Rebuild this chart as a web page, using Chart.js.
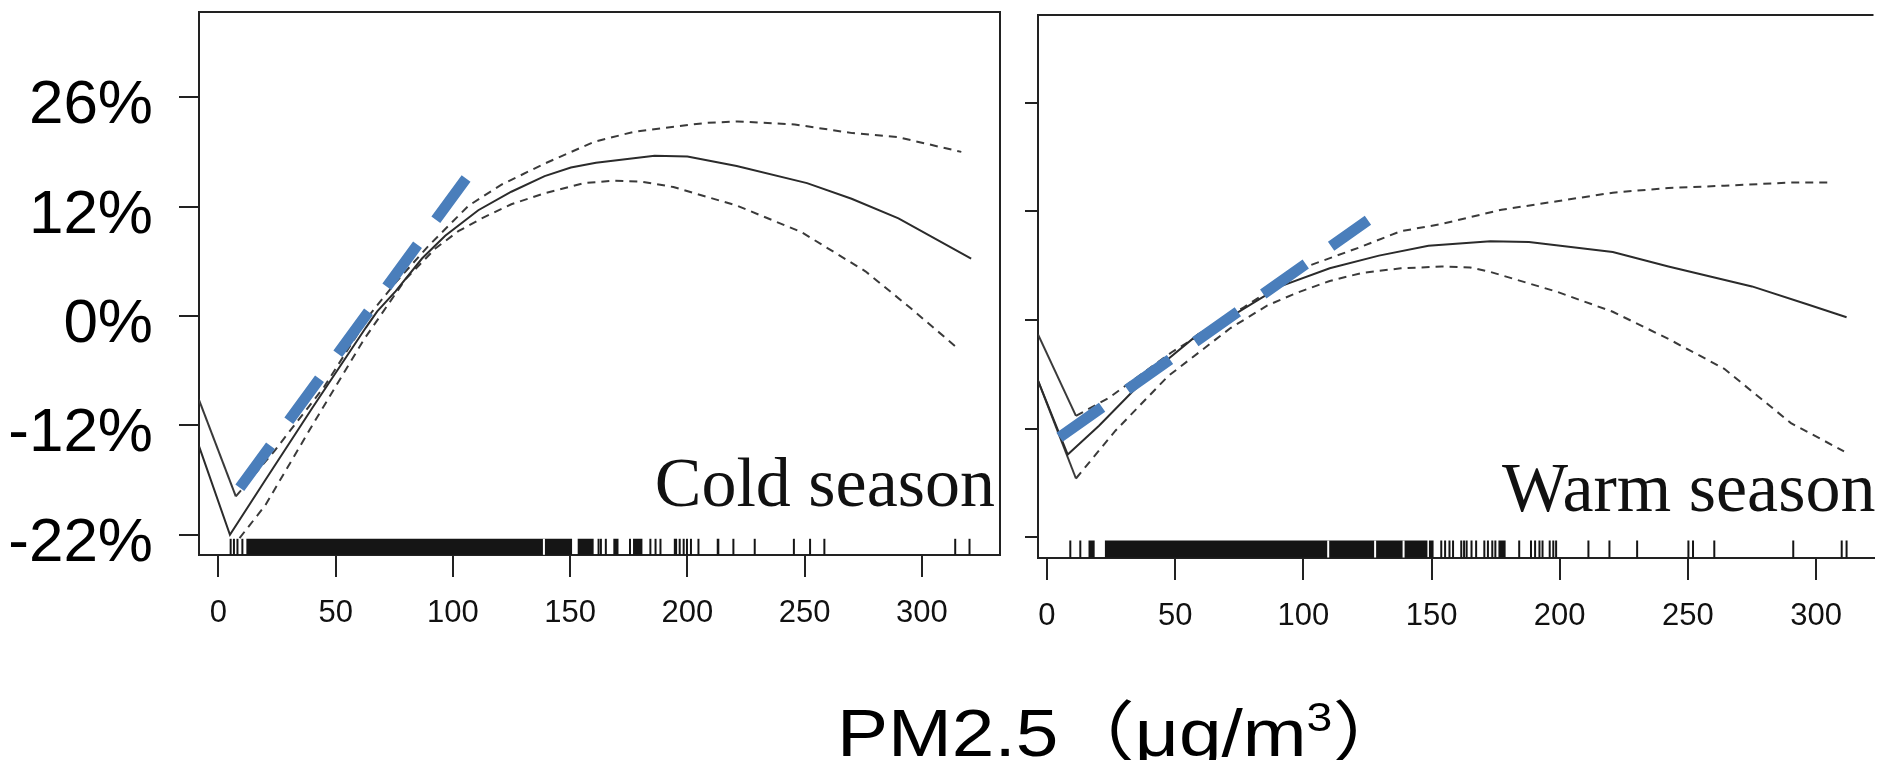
<!DOCTYPE html>
<html>
<head>
<meta charset="utf-8">
<script src="https://cdn.jsdelivr.net/npm/chart.js@4.4.1/dist/chart.umd.min.js"></script>
<style>
    body { margin: 0; width: 1884px; height: 760px; overflow: hidden; background: #fff; position: relative; }
    canvas { position: absolute; top: 0; }
    .season { position: absolute; font-family: 'Liberation Serif', 'Times New Roman', serif; font-size: 70px; line-height: 70px; color: #111; white-space: nowrap; }
    .xtitle { position: absolute; left: 837px; top: 694px; font-family: 'Liberation Sans', Arial, sans-serif; font-size: 66px; line-height: 66px; color: #000; white-space: nowrap; transform: scaleX(1.16); transform-origin: left top; }
    .cjk { font-family: 'Noto Sans CJK SC', sans-serif; }
    .sup { font-size: 40px; position: relative; top: -25px; }
</style>
</head>
<body>
<canvas id="coldChart" width="1010" height="690" style="left:0;width:1010px;height:690px"></canvas>
<canvas id="warmChart" width="884" height="690" style="left:1000px;width:884px;height:690px"></canvas>
<div class="season" style="right:889px;top:448px">Cold season</div>
<div class="season" style="left:1502px;top:453px">Warm season</div>
<div class="xtitle">PM2.5<span class="cjk">（</span>μg/m<span class="sup">3</span><span class="cjk">）</span></div>
<script>
// axis ticks
const xTicks = [0, 50, 100, 150, 200, 250, 300];
const yTickValues = [-22, -12, 0, 12, 26];
const yTickLabels = ['-22%', '-12%', '0%', '12%', '26%'];

// Cold season: fit and confidence band (PM2.5, % change)
const coldFitX = [-8.3, 4.9, 20, 40, 62.8, 67.7, 75.5, 86.8, 96.7, 110.8, 124.9, 139.1, 150.3, 161, 186, 200, 221, 251, 270, 290, 321];
const coldFitY = [-13.9, -22.0, -17.0, -10.1, -1.3, 0.5, 2.7, 6.3, 8.8, 11.6, 13.9, 15.9, 17.0, 17.6, 18.5, 18.4, 17.2, 15.0, 13.0, 10.7, 6.3];
const coldUpperX = [-8.3, 7.4, 24, 45, 65, 75, 89.6, 106.6, 120.7, 139.1, 160.3, 177.6, 207.6, 221.3, 245.8, 270.4, 289.5, 316.8];
const coldUpperY = [-9.2, -18.5, -14.3, -7.8, 0.3, 3.5, 7.7, 12.1, 14.8, 17.5, 20.3, 21.6, 22.7, 22.9, 22.5, 21.4, 20.9, 19.0];
const coldLowerX = [9, 20, 40, 62, 79.7, 92.5, 102.3, 112.2, 124.9, 139.1, 156, 168, 180.3, 194, 221.3, 248.6, 275.9, 295, 315.5];
const coldLowerY = [-22.3, -19.3, -12.0, -2.6, 4.0, 7.4, 9.3, 10.7, 12.3, 13.7, 15.0, 15.3, 15.2, 14.5, 12.1, 9.2, 4.9, 0.9, -3.6];
const coldTrendX = [9.1, 105.6];
const coldTrendY = [-17.7, 15.6];
const coldRugTicks = [5.2, 6.6, 8.1, 10.2, 162.1, 163.1, 165.2, 175.5, 184.2, 186.4, 188.5, 196.7, 198.4, 199.8, 201.5, 204.7, 219.6, 228.7, 245.4, 252.3, 258.4, 314.2, 320.3];
const coldRugBlocks = [[11.9, 150.8], [153.2, 160.0], [168.4, 170.6], [176.8, 180.8], [194.2, 195.6], [212.5, 213.6]];
const coldRugGaps = [138.8];

// Warm season
const warmFitX = [-3.5, 8.1, 20.3, 33.1, 46.1, 58.9, 74.3, 91, 110.3, 129.5, 148.8, 173, 188, 220.7, 242.4, 275, 296.8, 311.9];
const warmFitY = [-6.7, -14.4, -11.7, -8.0, -4.6, -1.6, 0.8, 3.7, 5.7, 7.1, 8.2, 8.7, 8.6, 7.5, 5.9, 3.7, 1.7, 0.3];
const warmUpperX = [-3.5, 11.3, 24.2, 48.5, 76.8, 101.3, 121.8, 138, 154, 177.3, 199, 220.7, 242.4, 264.2, 290.2, 305.5];
const warmUpperY = [-1.6, -10.6, -8.6, -3.6, 1.4, 5.9, 8.0, 9.8, 10.6, 12.2, 13.3, 14.4, 15.0, 15.3, 15.7, 15.7];
const warmLowerX = [-3.5, 11.3, 26.7, 47.3, 71.6, 86, 97.5, 110.3, 123, 138, 154, 165, 173, 199, 220.7, 242.4, 264.2, 290.2, 310.9];
const warmLowerY = [-6.7, -16.6, -12.2, -6.2, -0.9, 1.6, 3.0, 4.3, 5.2, 5.7, 5.9, 5.8, 5.3, 3.1, 0.9, -2.1, -5.4, -11.4, -14.1];
const warmTrendX = [4.9, 125.2];
const warmTrendY = [-12.8, 11.0];
const warmRugTicks = [9.1, 13.0, 153.8, 155.3, 157.0, 158.4, 161.6, 162.7, 163.7, 165.6, 167.4, 170.6, 172.0, 173.7, 174.9, 184.2, 188.8, 190.4, 192.1, 193.3, 196.1, 197.5, 198.6, 211.2, 219.4, 230.2, 250.2, 252.0, 260.3, 291.1, 310.0, 311.9];
const warmRugBlocks = [[16.2, 18.6], [22.6, 148.4], [149.0, 150.8], [176.1, 178.9]];
const warmRugGaps = [109.7, 128.0, 139.1];

const RUG_Y = -23.1;
const SANS = "'Liberation Sans', Arial, sans-serif";
const INK = '#222';

// y axis: labelled ticks are evenly spaced, so map values piecewise between them
const LinearScale = Chart.LinearScale || Chart.registry.getScale('linear');
class StepScale extends LinearScale {
    static id = 'step';
    static defaults = { ticks: { callback: v => v } };
    toStep(v) {
        const t = yTickValues;
        let i = 0;
        if (v >= t[t.length - 1]) i = t.length - 2;
        else if (v > t[0]) { while (v > t[i + 1]) i++; }
        return i + (v - t[i]) / (t[i + 1] - t[i]);
    }
    fromStep(s) {
        const t = yTickValues;
        const i = Math.max(0, Math.min(t.length - 2, Math.floor(s)));
        return t[i] + (s - i) * (t[i + 1] - t[i]);
    }
    getPixelForValue(value) {
        if (value === null || value === undefined) return NaN;
        const s0 = this.toStep(this.min), s1 = this.toStep(this.max);
        return this.getPixelForDecimal((this.toStep(value) - s0) / (s1 - s0));
    }
    getValueForPixel(pixel) {
        const s0 = this.toStep(this.min), s1 = this.toStep(this.max);
        return this.fromStep(s0 + this.getDecimalForPixel(pixel) * (s1 - s0));
    }
}
Chart.register(StepScale);

const framePlugin = {
    id: 'frame',
    afterDraw(chart, args, opts) {
        const { ctx, chartArea: a } = chart;
        ctx.save();
        ctx.strokeStyle = INK;
        ctx.lineWidth = 2;
        ctx.beginPath();
        ctx.moveTo(a.left, a.top);
        ctx.lineTo(a.right, a.top);
        if (opts.right) ctx.lineTo(a.right, a.bottom);
        ctx.stroke();
        ctx.restore();
    }
};

function pts(xs, ys) {
    return xs.map((x, i) => ({ x: x, y: ys[i] }));
}

function buildDatasets(s) {
    // first segment of a band line is the solid lead-in from the frame
    const bandDash = ctx => (ctx.p0DataIndex === 0 && s.leadIn.includes(ctx.datasetIndex)) ? [] : [8, 6];
    return [
        { data: pts(s.trendX, s.trendY), borderColor: '#4a7ebb', borderWidth: 11, borderDash: [52, 31], borderCapStyle: 'butt', order: 0 },
        { data: pts(s.fitX, s.fitY), borderColor: '#2b2b2b', borderWidth: 2, order: 1 },
        { data: pts(s.upperX, s.upperY), borderColor: '#3a3a3a', borderWidth: 2, segment: { borderDash: bandDash }, order: 1 },
        { data: pts(s.lowerX, s.lowerY), borderColor: '#3a3a3a', borderWidth: 2, segment: { borderDash: bandDash }, order: 1 },
        {
            data: s.rugBlocks.flatMap(([a, b]) => [{ x: a, y: RUG_Y }, { x: b, y: RUG_Y }, { x: b, y: null }]),
            borderColor: '#151515', borderWidth: s.rugWidth, borderCapStyle: 'butt', spanGaps: false, order: 3
        },
        {
            type: 'scatter', data: s.rugTicks.map(x => ({ x: x, y: RUG_Y })),
            pointStyle: 'line', rotation: 90, pointRadius: s.rugWidth / 2, borderColor: '#151515', borderWidth: 2, order: 2
        },
        {
            type: 'scatter', data: s.rugGaps.map(x => ({ x: x, y: RUG_Y })),
            pointStyle: 'line', rotation: 90, pointRadius: s.rugWidth / 2, borderColor: '#ffffff', borderWidth: 2, order: 2
        }
    ];
}

function createPanel(canvasId, s) {
    return new Chart(document.getElementById(canvasId).getContext('2d'), {
        type: 'line',
        data: { datasets: buildDatasets(s) },
        options: {
            responsive: false,
            animation: false,
            events: [],
            elements: { point: { radius: 0 }, line: { tension: 0, fill: false } },
            layout: { padding: { top: s.top, right: s.right, left: 0, bottom: 0 } },
            plugins: { legend: { display: false }, tooltip: { enabled: false }, frame: { right: s.frameRight } },
            scales: {
                x: {
                    type: 'linear',
                    min: s.xMin,
                    max: s.xMax,
                    afterBuildTicks: axis => { axis.ticks = xTicks.map(v => ({ value: v })); },
                    afterFit: axis => {
                        axis.height = s.xAxisHeight;
                        axis.paddingLeft = 0;
                        axis.paddingRight = 0;
                    },
                    grid: { drawOnChartArea: false, drawTicks: true, tickLength: 22, color: INK, lineWidth: 2 },
                    border: { display: true, color: INK, width: 2 },
                    ticks: { font: { family: SANS, size: 31 }, color: '#111', padding: 18, maxRotation: 0, autoSkip: false }
                },
                y: {
                    type: 'step',
                    min: s.yMin,
                    max: s.yMax,
                    afterBuildTicks: axis => { axis.ticks = yTickValues.map(v => ({ value: v })); },
                    afterFit: axis => {
                        axis.width = s.yAxisWidth;
                        axis.paddingTop = 0;
                        axis.paddingBottom = 0;
                    },
                    grid: { drawOnChartArea: false, drawTicks: true, tickLength: s.yTickLength, color: INK, lineWidth: 2 },
                    border: { display: true, color: INK, width: 2 },
                    ticks: {
                        display: s.yLabels,
                        callback: v => yTickLabels[yTickValues.indexOf(v)],
                        font: { family: SANS, size: 62 },
                        color: '#000',
                        padding: 26,
                        labelOffset: 9
                    }
                }
            }
        },
        plugins: [framePlugin]
    });
}

const coldPanel = {
    fitX: coldFitX, fitY: coldFitY, upperX: coldUpperX, upperY: coldUpperY, lowerX: coldLowerX, lowerY: coldLowerY,
    trendX: coldTrendX, trendY: coldTrendY, rugTicks: coldRugTicks, rugBlocks: coldRugBlocks, rugGaps: coldRugGaps,
    rugWidth: 16, xMin: -8.3, xMax: 333.3, yMin: -23.85, yMax: 36.9, leadIn: [2],
    top: 12, right: 5, xAxisHeight: 135, yAxisWidth: 199, yTickLength: 20, yLabels: true, frameRight: true
};
const warmPanel = {
    fitX: warmFitX, fitY: warmFitY, upperX: warmUpperX, upperY: warmUpperY, lowerX: warmLowerX, lowerY: warmLowerY,
    trendX: warmTrendX, trendY: warmTrendY, rugTicks: warmRugTicks, rugBlocks: warmRugBlocks, rugGaps: warmRugGaps,
    rugWidth: 17, xMin: -3.5, xMax: 322.4, yMin: -23.92, yMax: 37.3, leadIn: [2, 3],
    top: 15, right: 0, xAxisHeight: 132, yAxisWidth: 38, yTickLength: 13, yLabels: false, frameRight: false
};

createPanel('coldChart', coldPanel);
createPanel('warmChart', warmPanel);
</script>
</body>
</html>
